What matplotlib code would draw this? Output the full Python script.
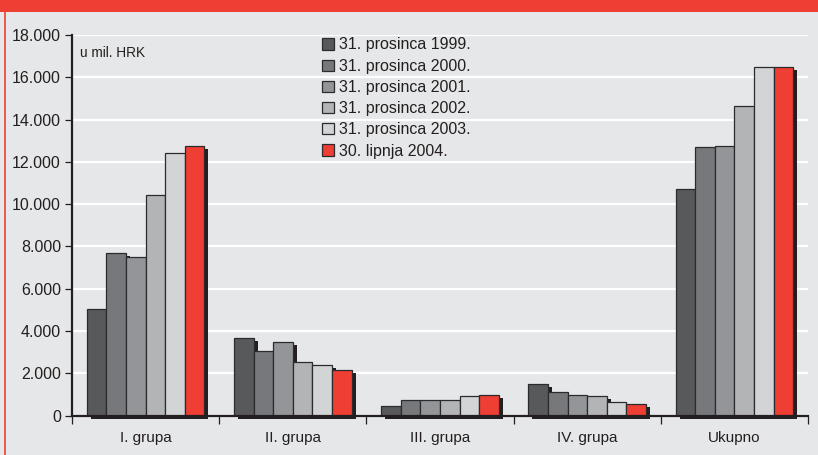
import matplotlib
matplotlib.use("Agg")

import matplotlib.pyplot as plt
import matplotlib.transforms as mtransforms
from matplotlib.patches import Patch, Rectangle
from matplotlib.lines import Line2D
import numpy as np

# ── 데이터 ────────────────────────────────────────────────────────────
groups = ["I. grupa", "II. grupa", "III. grupa", "IV. grupa", "Ukupno"]
series_labels = [
    "31. prosinca 1999.",
    "31. prosinca 2000.",
    "31. prosinca 2001.",
    "31. prosinca 2002.",
    "31. prosinca 2003.",
    "30. lipnja 2004.",
]
v1999 = [5030, 3650, 460, 1480, 10700]
v2000 = [7690, 3070, 740, 1120, 12700]
v2001 = [7510, 3460, 710, 990, 12750]
v2002 = [10420, 2530, 740, 900, 14650]
v2003 = [12440, 2400, 930, 620, 16470]
v2004 = [12750, 2150, 980, 550, 16500]
values = [v1999, v2000, v2001, v2002, v2003, v2004]

colors = ["#58595b", "#77787b", "#939598", "#b3b4b6", "#d3d4d6", "#ef3e33"]
yticks = np.arange(0, 18001, 2000)
ytick_labels = ["0" if t == 0 else f"{t // 1000}.{t % 1000:03d}" for t in yticks]

BG = "#e6e7e8"
RED = "#ef3e33"
INK = "#231f20"

plt.rcParams["font.family"] = ["Liberation Sans", "DejaVu Sans"]

fig = plt.figure(figsize=(8.18, 4.55), dpi=100, facecolor=BG)
ax = fig.add_axes([72 / 818, 1 - 415.5 / 455, 736 / 818, 380.5 / 455])
ax.set_facecolor(BG)

# ── 막대 + 그림자 ─────────────────────────────────────────────────────
x = np.arange(len(groups))
n = len(values)
w = 0.8 / n
shadow = mtransforms.offset_copy(ax.transData, fig=fig, x=4, y=-3, units="dots")

for i, vals in enumerate(values):
    pos = x - 0.4 + w * (i + 0.5)
    ax.bar(pos, vals, width=w, color=INK, edgecolor="none",
           transform=shadow, clip_on=False, zorder=2)
for i, (vals, col, lab) in enumerate(zip(values, colors, series_labels)):
    pos = x - 0.4 + w * (i + 0.5)
    ax.bar(pos, vals, width=w, color=col, edgecolor="#2b2b2d",
           linewidth=0.9, zorder=3, label=lab)

# ── 축 ───────────────────────────────────────────────────────────────
ax.set_xlim(-0.5, len(groups) - 0.5)
ax.set_ylim(0, 18000)
ax.set_yticks(yticks)
ax.set_yticklabels(ytick_labels)
ax.yaxis.grid(True, color="white", linewidth=1.6, zorder=0)
ax.set_axisbelow(True)

ax.set_xticks(x)
ax.set_xticklabels(groups, fontsize=11)
ax.set_xticks(np.arange(-0.5, len(groups)), minor=True)
ax.tick_params(axis="x", which="major", length=0, pad=11, labelcolor=INK)
ax.tick_params(axis="x", which="minor", length=6, width=0.9, color=INK,
               direction="out")
ax.tick_params(axis="y", length=5, width=0.9, color=INK, labelsize=11.5,
               pad=3, labelcolor=INK)

for s in ["top", "right"]:
    ax.spines[s].set_visible(False)
ax.spines["left"].set_linewidth(1.6)
ax.spines["left"].set_color(INK)
ax.spines["bottom"].set_linewidth(1.6)
ax.spines["bottom"].set_color(INK)
ax.spines["bottom"].set_zorder(4)

ax.text(8 / 736, 1 - 18 / 380.5, "u mil. HRK", transform=ax.transAxes,
        fontsize=9.8, color=INK, va="center", ha="left")

handles = [Patch(facecolor=c, edgecolor="#2b2b2d", linewidth=0.9) for c in colors]
ax.legend(handles, series_labels, loc="upper left",
          bbox_to_anchor=(250 / 736, 1 - 2.5 / 380.5), frameon=False, fontsize=11.5,
          handlelength=0.75, handleheight=0.7, handletextpad=0.3,
          labelspacing=0.39, borderpad=0, borderaxespad=0,
          labelcolor=INK)

# ── 외곽 장식 ─────────────────────────────────────────────────────────
fig.patches.append(Rectangle((0, 1 - 12 / 455), 1, 12 / 455, transform=fig.transFigure,
                             facecolor=RED, edgecolor="none", zorder=0))
fig.lines.append(Line2D([5 / 818, 5 / 818], [0, 1 - 12 / 455], transform=fig.transFigure,
                        color=RED, linewidth=1.2))

plt.savefig("out.png", dpi=100, facecolor=BG)
plt.close()
